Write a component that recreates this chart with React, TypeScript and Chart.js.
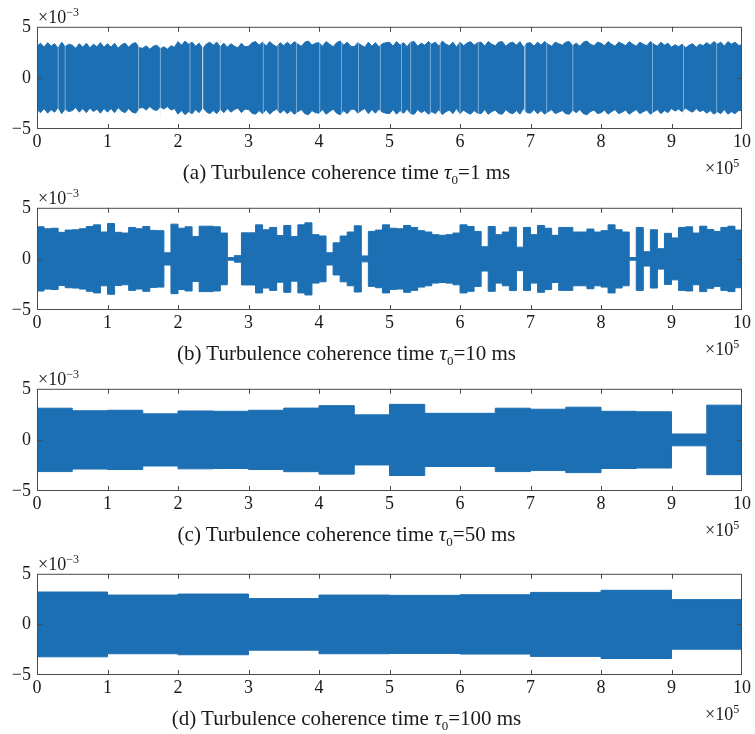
import React, { useEffect, useRef } from 'react';
import { Chart, registerables } from 'chart.js';

Chart.register(...registerables);

// ---------- data (x in units of 1e5 samples, y in units of 1e-3) ----------
const xTickValues = [0, 1, 2, 3, 4, 5, 6, 7, 8, 9, 10];
const yTickValues = [-5, 0, 5];

// (a) tau0 = 1 ms : envelope every 0.05e5 samples
const segA = 0.05;
const ampA = [
  3.1, 3.4, 3.0, 3.45, 3.1, 3.35, 2.9, 3.5, 3.05, 3.3,
  3.2, 2.9, 3.35, 3.0, 3.4, 2.95, 3.3, 3.05, 3.45, 3.0,
  3.35, 3.0, 3.4, 2.9, 3.25, 3.4, 3.0, 3.35, 3.45, 2.95,
  2.9, 3.15, 2.8, 3.1, 3.2, 2.85, 3.05, 2.8, 3.15, 3.0,
  3.55, 3.2, 3.6, 3.3, 3.5, 3.1, 3.4, 2.9, 3.3, 3.5,
  3.2, 3.5, 3.05, 3.4, 3.0, 3.35, 3.1, 2.95, 3.4, 3.05,
  3.1, 3.45, 3.55, 3.2, 3.5, 3.1, 3.55, 3.25, 3.05, 3.45,
  3.15, 3.5, 3.2, 3.55, 3.3, 3.1, 3.5, 3.6, 3.2, 3.4,
  3.45, 3.1, 3.55, 3.3, 3.05, 3.45, 3.6, 3.2, 3.5, 3.1,
  3.05, 3.45, 3.2, 3.0, 3.5, 3.1, 3.45, 3.05, 3.35, 3.45,
  3.5, 3.1, 3.55, 3.2, 3.45, 3.05, 3.5, 3.55, 3.1, 3.4,
  3.2, 3.55, 3.3, 3.5, 3.1, 3.6, 3.3, 3.15, 3.5, 3.0,
  3.5, 3.15, 3.4, 3.55, 3.2, 3.45, 3.5, 3.1, 3.55, 3.3,
  3.15, 3.5, 3.55, 3.1, 3.4, 3.5, 3.2, 3.55, 3.0, 3.4,
  3.45, 3.1, 3.5, 3.2, 3.55, 3.3, 3.1, 3.5, 3.35, 3.2,
  3.5, 3.55, 3.15, 3.4, 3.1, 3.5, 3.6, 3.3, 3.15, 3.5,
  3.4, 3.15, 3.55, 3.3, 3.1, 3.5, 3.35, 3.15, 3.55, 3.3,
  3.1, 3.5, 3.3, 3.15, 3.55, 3.3, 3.1, 3.5, 3.2, 3.4,
  3.0, 3.25, 3.05, 3.3, 2.95, 3.2, 3.35, 3.0, 3.3, 3.15,
  3.45, 3.2, 3.55, 3.3, 3.5, 3.1, 3.55, 3.3, 3.5, 3.2,
];
// light streaks (near-zero amplitude intervals) and the two full dropouts
const gapsA = [
  0.3, 0.4, 1.44, 1.75, 2.17, 2.6, 3.21, 3.42, 3.68, 4.01, 4.32, 4.56,
  4.87, 5.17, 5.3, 5.58, 5.72, 6.0, 6.26, 7.23, 7.6, 8.73, 9.17, 9.64,
];
const dropoutsA = [2.35, 6.92];

// (b) tau0 = 10 ms : one amplitude per 0.1e5 samples
const segB = 0.1;
const ampB = [
  3.14, 2.95, 3.0, 2.6, 2.82, 2.85, 2.95, 3.17, 3.33, 2.63,
  3.46, 2.6, 2.53, 3.08, 2.95, 3.17, 2.79, 2.76, 0.6, 3.4,
  3.0, 3.14, 2.2, 3.2, 3.2, 3.14, 2.53, 0.13, 0.32, 2.55,
  2.55, 3.33, 2.85, 3.08, 2.28, 3.27, 2.18, 3.33, 3.53, 2.37,
  2.24, 0.6, 1.57, 2.24, 2.63, 3.24, 0.29, 2.69, 2.82, 3.33,
  3.0, 2.95, 3.27, 3.08, 2.76, 2.63, 2.37, 2.31, 2.37, 2.53,
  3.33, 3.17, 2.69, 1.19, 3.17, 2.37, 2.63, 3.1, 1.15, 3.08,
  2.37, 3.27, 3.0, 2.31, 3.08, 3.08, 2.63, 2.63, 2.92, 2.63,
  2.76, 3.33, 2.85, 2.63, 0.13, 3.08, 0.7, 2.85, 1.0, 2.5,
  2.05, 3.08, 3.14, 2.53, 3.2, 2.88, 2.69, 3.08, 3.2, 2.82,
];

// (c) tau0 = 50 ms : one amplitude per 0.5e5 samples
const segC = 0.5;
const ampC = [
  3.1, 2.85, 2.9, 2.55, 2.83, 2.8, 2.9, 3.11, 3.35, 2.45,
  3.48, 2.6, 2.6, 3.1, 3.0, 3.2, 2.8, 2.75, 0.58, 3.4,
];

// (d) tau0 = 100 ms : one amplitude per 1e5 samples
const segD = 1;
const ampD = [3.2, 2.9, 3.0, 2.55, 2.9, 2.87, 2.93, 3.16, 3.37, 2.45];

const panelLetters = ['(a)', '(b)', '(c)', '(d)'];
const tauValues = ['1 ms', '10 ms', '50 ms', '100 ms'];

// ---------- layout ----------
const W = 755;
const BLUE = '#1c6fb3';
const FONT = '"Liberation Serif", "Times New Roman", serif';

const panels = [
  { top: 25, bottom: 129, amps: ampA, seg: segA, stepped: false, gaps: gapsA, drops: dropoutsA },
  { top: 206, bottom: 310, amps: ampB, seg: segB, stepped: true, gaps: [] as number[], drops: [] as number[] },
  { top: 387, bottom: 491, amps: ampC, seg: segC, stepped: true, gaps: [] as number[], drops: [] as number[] },
  { top: 572, bottom: 675, amps: ampD, seg: segD, stepped: true, gaps: [] as number[], drops: [] as number[] },
];

const PAD_TOP = 15;
const X_AXIS_H = 30;

const framePlugin = {
  id: 'frameTicks',
  afterDatasetsDraw(chart: any) {
    const { ctx, chartArea, scales } = chart;
    const { left, right, top, bottom } = chartArea;
    ctx.save();
    ctx.strokeStyle = '#4a4a4a';
    ctx.lineWidth = 1;
    ctx.beginPath();
    scales.x.ticks.forEach((t: any) => {
      const px = Math.round(scales.x.getPixelForValue(t.value)) + 0.5;
      if (px <= left + 1 || px >= right - 1) return;
      ctx.moveTo(px, bottom);
      ctx.lineTo(px, bottom - 5);
      ctx.moveTo(px, top);
      ctx.lineTo(px, top + 5);
    });
    scales.y.ticks.forEach((t: any) => {
      const py = Math.round(scales.y.getPixelForValue(t.value)) + 0.5;
      if (py <= top + 1 || py >= bottom - 1) return;
      ctx.moveTo(left, py);
      ctx.lineTo(left + 5, py);
      ctx.moveTo(right, py);
      ctx.lineTo(right - 5, py);
    });
    ctx.stroke();
    ctx.strokeRect(left + 0.5, top + 0.5, right - left - 1, bottom - top - 1);
    ctx.restore();
  },
};

function envelope(amps: number[], seg: number, sign: number) {
  const pts = amps.map((a, i) => ({ x: i * seg, y: sign * a }));
  pts.push({ x: amps.length * seg, y: sign * amps[amps.length - 1] });
  return pts;
}

function gapLines(gaps: number[]) {
  const pts: any[] = [];
  gaps.forEach((g) => {
    pts.push({ x: g, y: -3.8 });
    pts.push({ x: g, y: 3.8 });
    pts.push({ x: g, y: null });
  });
  return pts;
}

function Panel({ idx }: { idx: number }) {
  const ref = useRef<HTMLCanvasElement>(null);
  const p = panels[idx];
  const h = p.bottom - p.top + PAD_TOP + X_AXIS_H;

  useEffect(() => {
    if (!ref.current) return;
    const base = {
      type: 'line',
      borderColor: BLUE,
      backgroundColor: BLUE,
      borderWidth: 1,
      pointRadius: 0,
      tension: 0,
      stepped: p.stepped ? 'before' : false,
    };
    const datasets: any[] = [
      { ...base, data: envelope(p.amps, p.seg, 1), fill: '+1', order: 2 },
      { ...base, data: envelope(p.amps, p.seg, -1), fill: false, order: 2 },
    ];
    const gapBase = { type: 'line', borderWidth: 1, pointRadius: 0, fill: false, spanGaps: false };
    if (p.gaps.length) {
      datasets.push({ ...gapBase, data: gapLines(p.gaps), borderColor: 'rgba(220,233,246,0.5)', order: 1 });
    }
    if (p.drops.length) {
      datasets.push({ ...gapBase, data: gapLines(p.drops), borderColor: 'rgba(240,245,251,0.9)', order: 0 });
    }
    const tickFont = { family: FONT, size: 18 };
    const chart = new Chart(ref.current, {
      type: 'line',
      data: { datasets },
      options: {
        animation: false,
        responsive: false,
        devicePixelRatio: 1,
        layout: { padding: { top: PAD_TOP, right: W - 742, left: 0, bottom: 0 } },
        plugins: { legend: { display: false }, tooltip: { enabled: false } },
        scales: {
          x: {
            type: 'linear',
            min: xTickValues[0],
            max: xTickValues[xTickValues.length - 1],
            afterBuildTicks: (s: any) => {
              s.ticks = xTickValues.map((v) => ({ value: v }));
            },
            ticks: { font: tickFont, color: '#1a1a1a', padding: 2, maxRotation: 0, autoSkip: false },
            grid: { display: false, drawTicks: false },
            border: { display: false },
            afterFit: (s: any) => {
              s.height = X_AXIS_H;
            },
          },
          y: {
            type: 'linear',
            min: -5,
            max: 5,
            afterBuildTicks: (s: any) => {
              s.ticks = yTickValues.map((v) => ({ value: v }));
            },
            ticks: {
              font: tickFont,
              color: '#1a1a1a',
              padding: 6,
              callback: (v: any) => (v < 0 ? '\u2212' + Math.abs(v) : String(v)),
            },
            grid: { display: false, drawTicks: false },
            border: { display: false },
            afterFit: (s: any) => {
              s.width = 37;
            },
          },
        },
      } as any,
      plugins: [framePlugin],
    } as any);
    return () => chart.destroy();
  }, [idx]);

  const expStyle: any = {
    position: 'absolute',
    fontSize: 18,
    lineHeight: '18px',
    whiteSpace: 'nowrap',
    color: '#1a1a1a',
  };
  const supStyle: any = { fontSize: 12, verticalAlign: 'top', position: 'relative', top: -5 };

  return (
    <>
      <canvas
        ref={ref}
        width={W}
        height={h}
        style={{ position: 'absolute', left: 0, top: p.top - PAD_TOP, width: W, height: h }}
      />
      <div style={{ ...expStyle, left: 38, top: p.top - 17 }}>
        ×10<sup style={supStyle}>−3</sup>
      </div>
      <div style={{ ...expStyle, left: 705, top: p.bottom + 30 }}>
        ×10<sup style={supStyle}>5</sup>
      </div>
      <div
        style={{
          position: 'absolute',
          left: 0,
          width: 693,
          textAlign: 'center',
          top: p.bottom + 32,
          fontSize: 21,
          lineHeight: '22px',
          whiteSpace: 'nowrap',
          color: '#1a1a1a',
        }}
      >
        {panelLetters[idx]} Turbulence coherence time <i>τ</i>
        <sub style={{ fontSize: 13, verticalAlign: 'baseline', position: 'relative', top: 5 }}>0</sub>={tauValues[idx]}
      </div>
    </>
  );
}

export default function App() {
  return (
    <div
      style={{
        position: 'absolute',
        left: 0,
        top: 0,
        width: W,
        height: 734,
        background: '#fff',
        fontFamily: FONT,
        overflow: 'hidden',
      }}
    >
      {panels.map((_, i) => (
        <Panel key={i} idx={i} />
      ))}
    </div>
  );
}
